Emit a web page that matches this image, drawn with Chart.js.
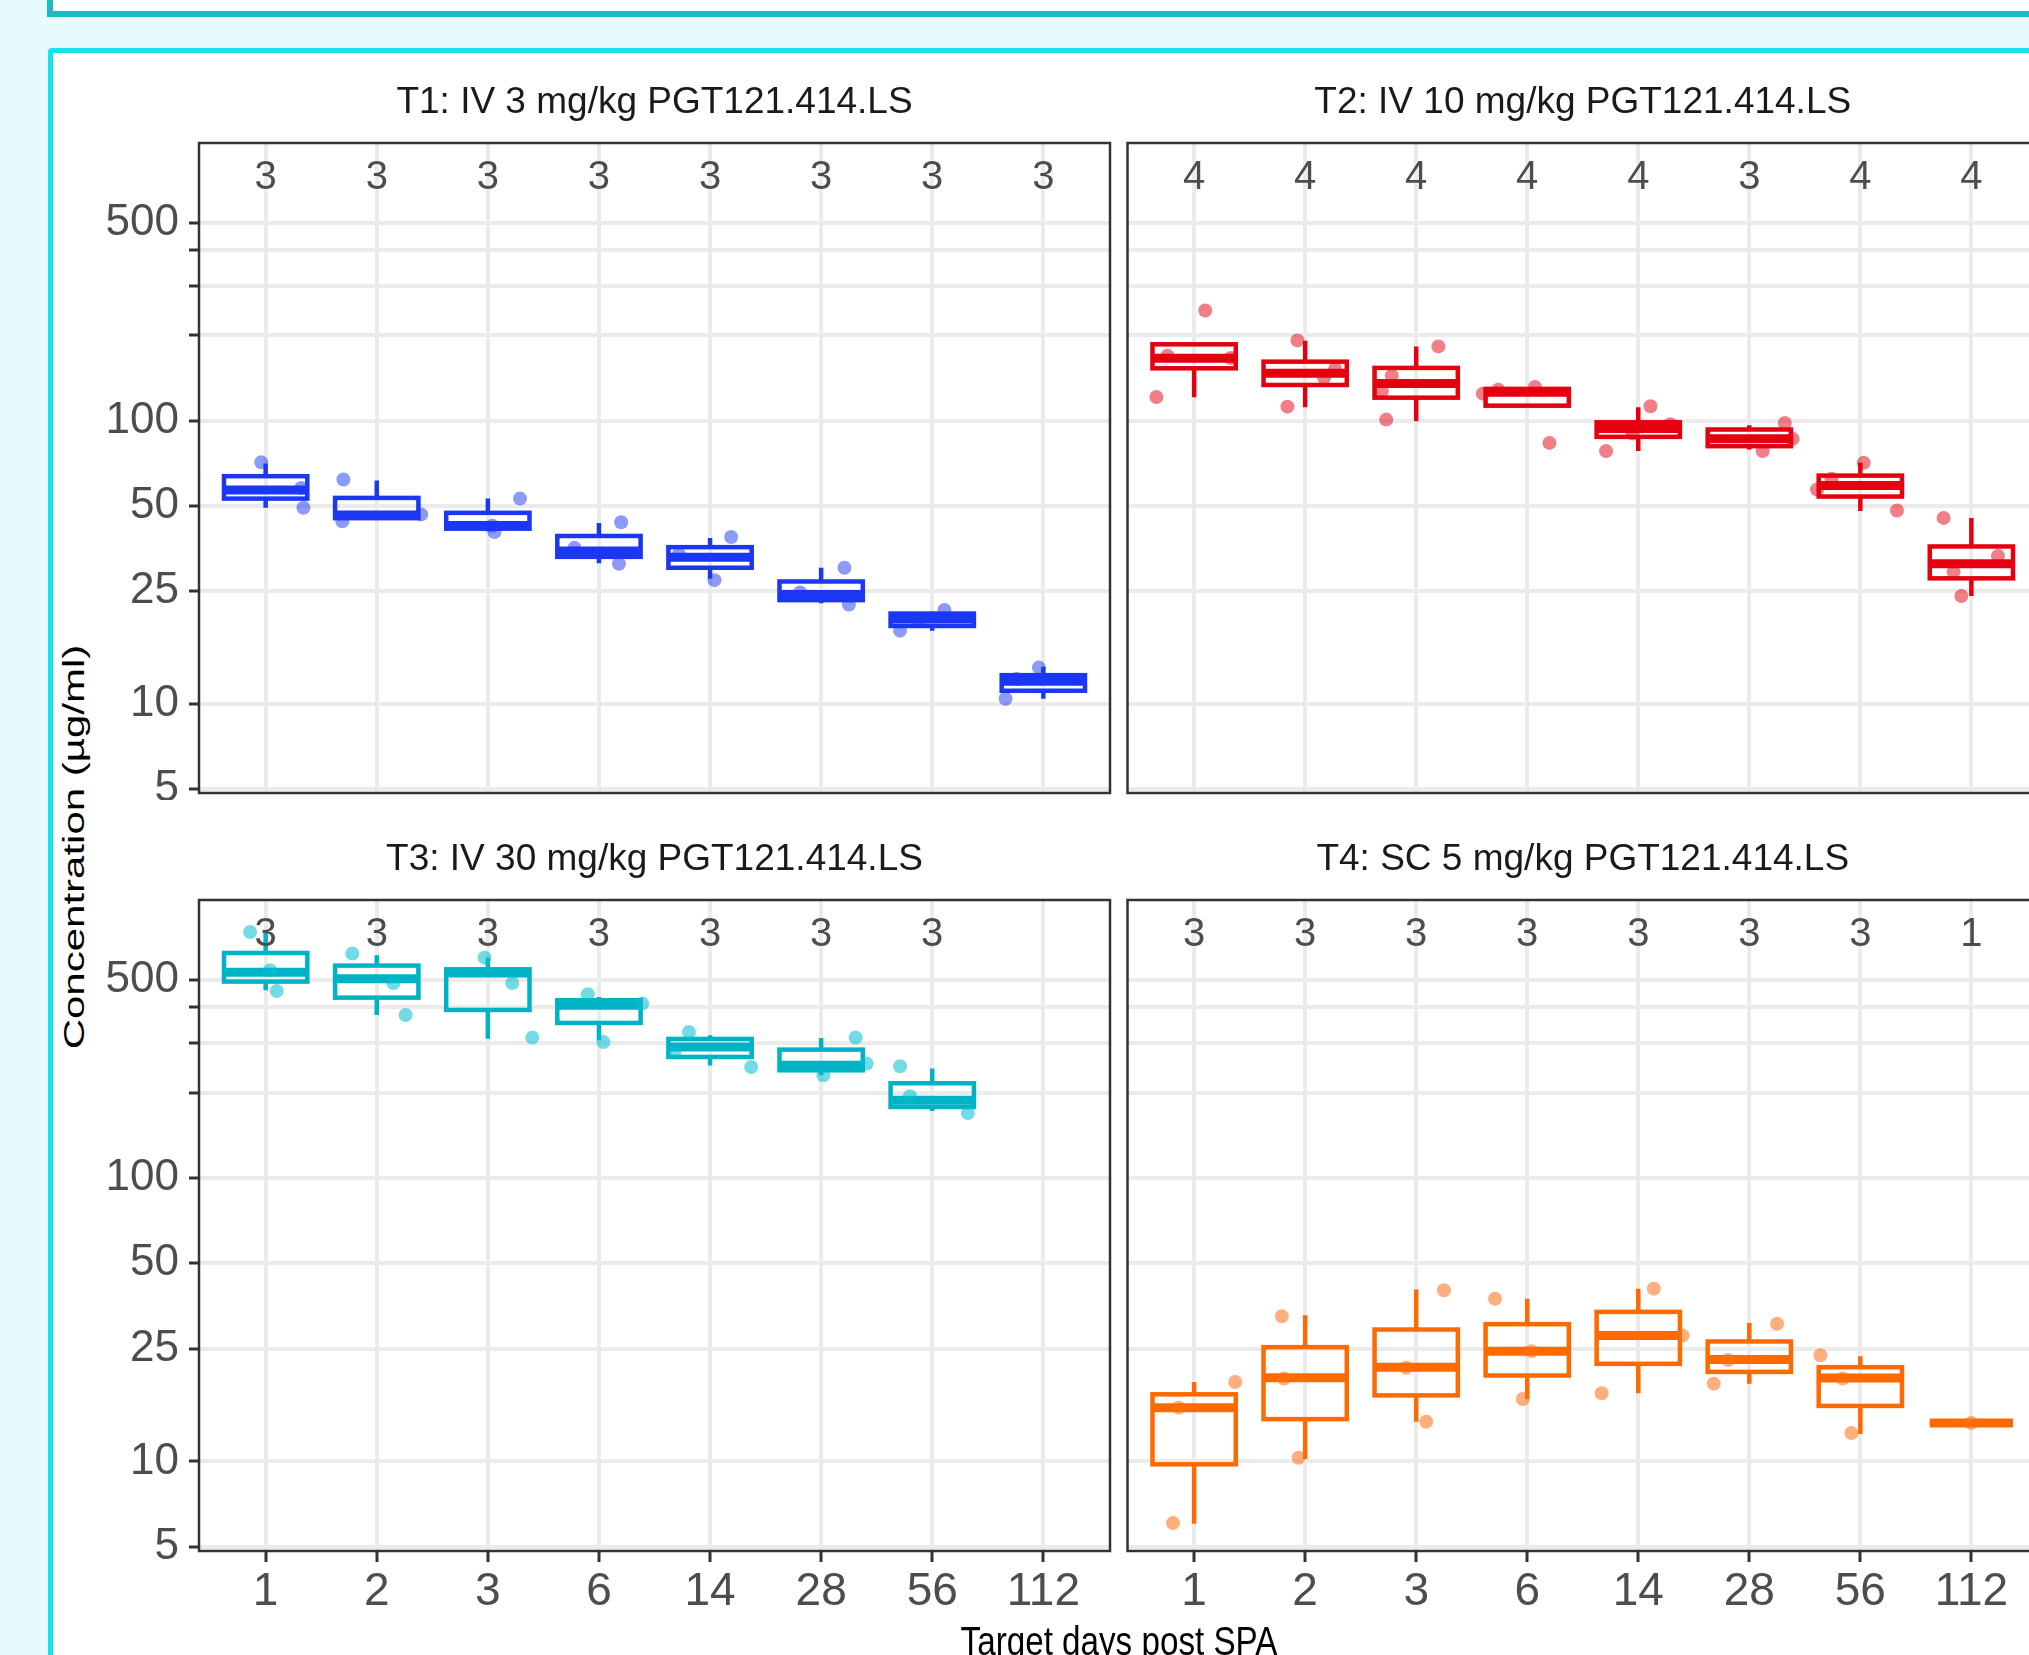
<!DOCTYPE html>
<html>
<head>
<meta charset="utf-8">
<script src="https://cdn.jsdelivr.net/npm/chart.js@4.4.0/dist/chart.umd.min.js"></script>
<style>
  html, body { margin: 0; padding: 0; }
  body { width: 2029px; height: 1655px; overflow: hidden; position: relative; background: #E8FBFC;
         font-family: "Liberation Sans", Arial, sans-serif; }
  #topbox { position: absolute; left: 47px; top: -50px; width: 2100px; height: 55px; background: #fff;
            border: 6px solid #18BDC7; }
  #mainbox { position: absolute; left: 48px; top: 48px; width: 2100px; height: 1700px; background: #fff;
             border: 5px solid #14E3EE; border-radius: 4px; }
  canvas { position: absolute; }
  .axt { position: absolute; color: #000; white-space: nowrap; z-index: 3; }
</style>
</head>
<body>
<div id="topbox"></div>
<div id="mainbox"></div>

<canvas id="c1" width="1018" height="750" style="left:100px;top:50px"></canvas>
<canvas id="c2" width="930" height="750" style="left:1120px;top:50px"></canvas>
<canvas id="c3" width="1018" height="851" style="left:100px;top:800px"></canvas>
<canvas id="c4" width="930" height="851" style="left:1120px;top:800px"></canvas>

<div class="axt" style="left:73.5px;top:847px;font-size:30px;line-height:30px;transform:translate(-50%,-50%) rotate(-90deg) scaleX(1.4)">Concentration (µg/ml)</div>
<div class="axt" style="left:1118.5px;top:1621px;font-size:40px;line-height:40px;transform:translateX(-50%) scaleX(0.83)">Target days post SPA</div>

<script>
Chart.defaults.font.family = '"Liberation Sans", Arial, sans-serif';

const days = ["1", "2", "3", "6", "14", "28", "56", "112"];
const yBreaks = [5, 10, 25, 50, 100, 200, 300, 400, 500];
const yLabelled = [5, 10, 25, 50, 100, 500];
const titles = [
  "T1: IV 3 mg/kg PGT121.414.LS",
  "T2: IV 10 mg/kg PGT121.414.LS",
  "T3: IV 30 mg/kg PGT121.414.LS",
  "T4: SC 5 mg/kg PGT121.414.LS"
];

// box stats per day: [lower whisker, q1, median, q3, upper whisker]
const t1Box = [
  [49.2, 53.0, 56.9, 63.6, 70.5],
  [44.5, 45.2, 46.4, 53.3, 61.4],
  [40.6, 41.5, 42.6, 47.2, 53.0],
  [31.3, 33.0, 34.6, 39.1, 43.5],
  [27.6, 30.2, 32.9, 35.7, 38.5],
  [22.6, 23.2, 24.3, 27.0, 30.2],
  [18.1, 18.8, 19.9, 20.8, 21.1],
  [10.4, 11.1, 12.0, 12.6, 13.5]
];
const t2Box = [
  [121, 153, 166, 186, 186],
  [111.4, 133.6, 146.9, 161.5, 191.6],
  [99.4, 120.5, 135.1, 153.5, 182.9],
  [112.9, 112.9, 125.9, 129.4, 131.0],
  [78.0, 87.6, 93.7, 98.6, 111.4],
  [79.0, 81.2, 86.2, 93.0, 96.3],
  [47.9, 53.9, 59.0, 63.9, 70.9],
  [24.0, 27.7, 31.2, 35.9, 45.3]
];
const t3Box = [
  [459.6, 493.2, 531.9, 622.3, 748],
  [375.6, 432.9, 505, 561.6, 610.7],
  [310.3, 391.7, 529, 545, 599],
  [306.2, 352.5, 406.8, 423.8, 435.3],
  [249.5, 267.4, 290, 309.5, 318.8],
  [230.3, 239.9, 249.8, 283.8, 312],
  [172.4, 178.1, 188, 215.9, 243.2],
  null
];
const t4Box = [
  [6.03, 9.77, 15.48, 17.25, 19.06],
  [10.2, 14.1, 19.75, 25.3, 32.8],
  [13.8, 17.1, 21.5, 29.2, 40.4],
  [16.6, 20.1, 24.5, 30.5, 37.5],
  [17.4, 22.1, 27.8, 33.7, 40.7],
  [18.8, 20.7, 22.9, 26.5, 30.8],
  [12.5, 15.7, 19.7, 21.5, 23.5],
  [13.66, 13.66, 13.66, 13.66, 13.66]
];

// individual animals per day: [jitter offset in day units, value]
const t1Pts = [
  [[-0.04, 71.2], [0.34, 49.2], [0.32, 57.8]],
  [[-0.30, 61.9], [-0.31, 44.1], [0.40, 46.6]],
  [[0.29, 53.0], [0.04, 42.5], [0.06, 40.4]],
  [[0.20, 43.7], [-0.22, 35.5], [0.18, 31.2]],
  [[0.19, 38.8], [-0.28, 33.7], [0.04, 27.3]],
  [[0.21, 30.2], [-0.19, 24.7], [0.25, 22.4]],
  [[0.11, 21.4], [-0.29, 18.1], [-0.12, 19.6]],
  [[-0.04, 13.4], [-0.34, 10.4], [-0.24, 12.2]]
];
const t2Pts = [
  [[0.10, 245], [-0.34, 121.2], [-0.24, 169.6], [0.33, 166.4]],
  [[-0.07, 192], [-0.16, 112], [0.17, 141.6], [0.27, 152.1]],
  [[0.20, 182.9], [-0.27, 100.8], [-0.22, 144.1], [-0.31, 126.9]],
  [[-0.40, 124.5], [-0.26, 128.6], [0.07, 131.5], [0.20, 83.4]],
  [[0.11, 112.3], [-0.29, 78], [0.29, 97], [-0.05, 90]],
  [[0.32, 98.1], [0.12, 78], [0.39, 86.2]],
  [[0.03, 70.9], [0.33, 48.1], [-0.39, 57.1], [-0.26, 62.3]],
  [[-0.25, 45.3], [-0.09, 24.0], [0.24, 33.2], [-0.16, 29.2]]
];
const t3Pts = [
  [[-0.14, 738], [0.10, 457], [0.04, 540.6]],
  [[-0.22, 619.2], [0.26, 375.6], [0.15, 487.8]],
  [[-0.03, 599], [0.40, 312.9], [0.22, 487.8]],
  [[-0.10, 444.9], [0.04, 302], [0.39, 412.4]],
  [[-0.19, 327.6], [0.37, 246.5], [-0.32, 278.5]],
  [[0.31, 312.9], [0.02, 230.3], [0.41, 253.3]],
  [[-0.29, 247.9], [0.32, 169.6], [-0.20, 194.2]],
  []
];
const t4Pts = [
  [[-0.14, 15.48], [0.37, 19.06], [-0.19, 6.06]],
  [[-0.21, 32.5], [-0.19, 19.6], [-0.06, 10.3]],
  [[0.25, 40.2], [-0.09, 21.4], [0.09, 13.8]],
  [[-0.29, 37.5], [0.04, 24.5], [-0.04, 16.6]],
  [[0.14, 40.7], [0.40, 27.8], [-0.33, 17.4]],
  [[0.25, 30.6], [-0.19, 22.8], [-0.32, 18.8]],
  [[-0.36, 23.7], [-0.16, 19.6], [-0.08, 12.6]],
  [[0, 13.66]]
];

const t1N = [3, 3, 3, 3, 3, 3, 3, 3];
const t2N = [4, 4, 4, 4, 4, 3, 4, 4];
const t3N = [3, 3, 3, 3, 3, 3, 3, null];
const t4N = [3, 3, 3, 3, 3, 3, 3, 1];

// draws the boxes under the points, then the n labels and panel frame on top
const facetBoxes = {
  id: 'facetBoxes',
  beforeDatasetsDraw(chart, args, opts) {
    const {ctx, chartArea: a, scales: {x, y}} = chart;
    ctx.save();
    ctx.beginPath();
    ctx.rect(a.left, a.top, a.width, a.height);
    ctx.clip();
    ctx.strokeStyle = opts.color;
    ctx.lineCap = 'butt';
    opts.boxes.forEach((b, i) => {
      if (!b) return;
      const [lo, q1, med, q3, hi] = b;
      const cx = x.getPixelForValue(i);
      const hw = x.getPixelForValue(i + 0.375) - cx;
      ctx.lineWidth = 4.5;
      ctx.beginPath();
      ctx.moveTo(cx, y.getPixelForValue(hi));
      ctx.lineTo(cx, y.getPixelForValue(q3));
      ctx.moveTo(cx, y.getPixelForValue(q1));
      ctx.lineTo(cx, y.getPixelForValue(lo));
      ctx.stroke();
      const top = y.getPixelForValue(q3);
      ctx.strokeRect(cx - hw, top, 2 * hw, y.getPixelForValue(q1) - top);
      const ym = y.getPixelForValue(med);
      ctx.lineWidth = 9;
      ctx.beginPath();
      ctx.moveTo(cx - hw, ym);
      ctx.lineTo(cx + hw, ym);
      ctx.stroke();
    });
    ctx.restore();
  },
  afterDatasetsDraw(chart, args, opts) {
    const {ctx, chartArea: a, scales: {x, y}} = chart;
    ctx.save();
    ctx.font = '40px "Liberation Sans", Arial, sans-serif';
    ctx.fillStyle = '#4D4D4D';
    ctx.textAlign = 'center';
    ctx.textBaseline = 'middle';
    opts.counts.forEach((n, i) => {
      if (n == null) return;
      ctx.fillText(String(n), x.getPixelForValue(i), y.getPixelForValue(720));
    });
    ctx.strokeStyle = '#333333';
    ctx.lineWidth = 2.5;
    ctx.strokeRect(a.left, a.top, a.width, a.height);
    ctx.restore();
  }
};

function panel(id, title, boxes, pts, counts, color, ptColor, leftAxis, bottomAxis) {
  const data = [];
  pts.forEach((grp, i) => grp.forEach(p => data.push({x: i + p[0], y: p[1]})));
  return new Chart(document.getElementById(id), {
    type: 'scatter',
    data: {
      datasets: [{
        data: data,
        backgroundColor: ptColor,
        borderWidth: 0,
        pointRadius: 7,
        pointHoverRadius: 7
      }]
    },
    options: {
      responsive: false,
      animation: false,
      events: [],
      layout: { padding: { right: leftAxis ? 8 : 12, bottom: bottomAxis ? 0 : 6 } },
      plugins: {
        legend: { display: false },
        tooltip: { enabled: false },
        title: {
          display: true,
          fullSize: false,
          text: title,
          color: '#1A1A1A',
          font: { size: 37, weight: 'normal', lineHeight: 1.2 },
          padding: bottomAxis ? { top: 37.5, bottom: 18.1 } : { top: 31, bottom: 17.6 }
        },
        facetBoxes: { boxes: boxes, counts: counts, color: color }
      },
      scales: {
        x: {
          type: 'linear',
          bounds: 'data',
          min: -0.6,
          max: 7.6,
          afterBuildTicks: s => { s.ticks = days.map((d, i) => ({ value: i })); },
          afterFit: s => { s.height = bottomAxis ? 100 : 0; s.paddingLeft = 0; s.paddingRight = 0; },
          ticks: {
            display: bottomAxis,
            autoSkip: false,
            maxRotation: 0,
            padding: 3,
            color: '#4D4D4D',
            font: { size: 46 },
            callback: v => days[v]
          },
          grid: { color: '#EBEBEB', lineWidth: 4, drawTicks: bottomAxis, tickLength: 11, tickColor: '#333333', tickWidth: 3 },
          border: { display: false }
        },
        y: {
          type: 'logarithmic',
          min: 4.83,
          max: 957,
          afterBuildTicks: s => { s.ticks = yBreaks.map(v => ({ value: v })); },
          afterFit: s => { s.width = leftAxis ? 99 : 7.5; s.paddingTop = 0; s.paddingBottom = 0; },
          ticks: {
            display: leftAxis,
            autoSkip: false,
            padding: 10,
            color: '#4D4D4D',
            font: { size: 44 },
            callback: v => (yLabelled.includes(v) ? String(v) : '')
          },
          grid: { color: '#EBEBEB', lineWidth: 4, drawTicks: leftAxis, tickLength: 10, tickColor: '#333333', tickWidth: 3 },
          border: { display: false }
        }
      }
    },
    plugins: [facetBoxes]
  });
}

panel('c1', titles[0], t1Box, t1Pts, t1N, '#1C37F2', 'rgba(28,55,242,0.5)', true, false);
panel('c2', titles[1], t2Box, t2Pts, t2N, '#E4000F', 'rgba(228,0,15,0.5)', false, false);
panel('c3', titles[2], t3Box, t3Pts, t3N, '#00B3C4', 'rgba(0,190,210,0.55)', true, true);
panel('c4', titles[3], t4Box, t4Pts, t4N, '#FF6A00', 'rgba(255,110,20,0.55)', false, true);
</script>
</body>
</html>
